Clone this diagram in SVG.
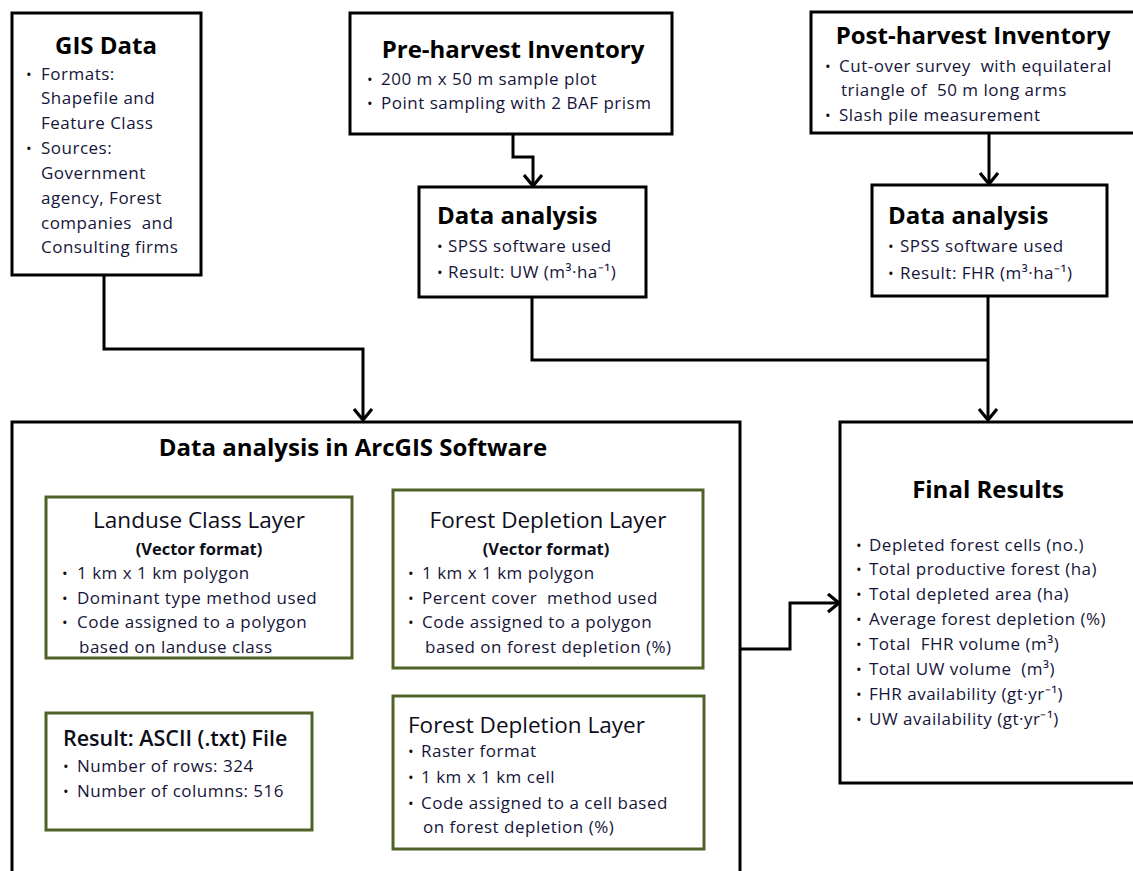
<svg xmlns="http://www.w3.org/2000/svg" width="1133" height="871" viewBox="0 0 1133 871">
<defs>
<marker id="arr" markerUnits="userSpaceOnUse" markerWidth="24" markerHeight="24" refX="13" refY="10" orient="auto" viewBox="0 0 24 24">
<path d="M2,1 L13,10 L2,19" fill="none" stroke="#000" stroke-width="3.2"/>
</marker>
<style>
.bx{fill:#fff;stroke:#000;stroke-width:3}
.gb{fill:#fff;stroke:#4f6228;stroke-width:3}
.ln{fill:none;stroke:#000;stroke-width:3;marker-end:url(#arr)}
.ln2{fill:none;stroke:#000;stroke-width:3}
text{font-family:"Open Sans","Liberation Sans",sans-serif;fill:#15153a;white-space:pre}
.t{font-weight:bold;fill:#000;font-size:24px}
.t2{fill:#0d0d1a;font-size:22.5px;font-weight:500}
.t3{fill:#0d0d1a;font-size:21.5px;font-weight:600}
.sb{font-weight:bold;fill:#0d0d1a;font-size:16.5px}
.b{font-size:17px;letter-spacing:0.5px}
.d{font-size:15px;fill:#111}
</style>
</defs>
<g id="connectors">
<path class="ln" d="M104,275 V349 H363 V420"/>
<path class="ln" d="M513,134 V157 H533 V186"/>
<path class="ln" d="M989,133 V184"/>
<path class="ln2" d="M532,297 V360 H988"/>
<path class="ln" d="M988,296 V420"/>
<path class="ln" d="M352,578 H392"/>
<path class="ln" d="M549,668 V695"/>
<path class="ln" d="M393,772 H313"/>
<path class="ln" d="M740,649 H790 V603 H839"/>
</g>
<g id="gis">
<rect class="bx" x="12" y="13" width="189" height="262"/>
<text class="t" x="106" y="54" text-anchor="middle">GIS Data</text>
<text class="d" x="26" y="80">•</text>
<text class="b" x="41" y="80">Formats:</text>
<text class="b" x="41" y="104">Shapefile and</text>
<text class="b" x="41" y="129">Feature Class</text>
<text class="d" x="26" y="154">•</text>
<text class="b" x="41" y="154">Sources:</text>
<text class="b" x="41" y="179">Government</text>
<text class="b" x="41" y="204">agency, Forest</text>
<text class="b" x="41" y="229">companies  and</text>
<text class="b" x="41" y="253">Consulting firms</text>
</g>
<g id="preharvest">
<rect class="bx" x="350" y="13" width="322" height="121"/>
<text class="t" x="513" y="58" text-anchor="middle">Pre-harvest Inventory</text>
<text class="d" x="367" y="85">•</text>
<text class="b" x="381" y="85">200 m x 50 m sample plot</text>
<text class="d" x="367" y="109">•</text>
<text class="b" x="381" y="109">Point sampling with 2 BAF prism</text>
</g>
<g id="pre-analysis">
<rect class="bx" x="419" y="187" width="227" height="110"/>
<text class="t" x="437" y="224">Data analysis</text>
<text class="d" x="437" y="252">•</text>
<text class="b" x="448" y="252">SPSS software used</text>
<text class="d" x="437" y="278">•</text>
<text class="b" x="448" y="278">Result: UW (m³·ha⁻¹)</text>
</g>
<g id="postharvest">
<rect class="bx" x="811" y="12" width="330" height="121"/>
<text class="t" x="973" y="44" text-anchor="middle">Post-harvest Inventory</text>
<text class="d" x="825" y="72">•</text>
<text class="b" x="839" y="72">Cut-over survey  with equilateral</text>
<text class="b" x="841" y="96">triangle of  50 m long arms</text>
<text class="d" x="825" y="121">•</text>
<text class="b" x="839" y="121">Slash pile measurement</text>
</g>
<g id="post-analysis">
<rect class="bx" x="872" y="185" width="235" height="111"/>
<text class="t" x="888" y="224">Data analysis</text>
<text class="d" x="888" y="252">•</text>
<text class="b" x="900" y="252">SPSS software used</text>
<text class="d" x="888" y="279">•</text>
<text class="b" x="900" y="279">Result: FHR (m³·ha⁻¹)</text>
</g>
<g id="arcgis">
<rect class="bx" x="12" y="422" width="728" height="470"/>
<text class="t" x="353" y="456" text-anchor="middle">Data analysis in ArcGIS Software</text>
</g>
<g id="landuse">
<rect class="gb" x="46" y="497" width="306" height="161"/>
<text class="t2" x="199" y="528" text-anchor="middle">Landuse Class Layer</text>
<text class="sb" x="199" y="555" text-anchor="middle">(Vector format)</text>
<text class="d" x="62" y="579">•</text>
<text class="b" x="77" y="579">1 km x 1 km polygon</text>
<text class="d" x="62" y="604">•</text>
<text class="b" x="77" y="604">Dominant type method used</text>
<text class="d" x="62" y="628">•</text>
<text class="b" x="77" y="628">Code assigned to a polygon</text>
<text class="b" x="79" y="653">based on landuse class</text>
</g>
<g id="depletion-vector">
<rect class="gb" x="393" y="490" width="310" height="178"/>
<text class="t2" x="548" y="528" text-anchor="middle">Forest Depletion Layer</text>
<text class="sb" x="546" y="555" text-anchor="middle">(Vector format)</text>
<text class="d" x="408" y="579">•</text>
<text class="b" x="422" y="579">1 km x 1 km polygon</text>
<text class="d" x="408" y="604">•</text>
<text class="b" x="422" y="604">Percent cover  method used</text>
<text class="d" x="408" y="628">•</text>
<text class="b" x="422" y="628">Code assigned to a polygon</text>
<text class="b" x="425" y="653">based on forest depletion (%)</text>
</g>
<g id="depletion-raster">
<rect class="gb" x="393" y="696" width="311" height="153"/>
<text class="t2" x="408" y="733">Forest Depletion Layer</text>
<text class="d" x="408" y="757">•</text>
<text class="b" x="421" y="757">Raster format</text>
<text class="d" x="408" y="783">•</text>
<text class="b" x="421" y="783">1 km x 1 km cell</text>
<text class="d" x="408" y="809">•</text>
<text class="b" x="421" y="809">Code assigned to a cell based</text>
<text class="b" x="423" y="833">on forest depletion (%)</text>
</g>
<g id="ascii">
<rect class="gb" x="46" y="713" width="266" height="117"/>
<text class="t3" x="63" y="746">Result: ASCII (.txt) File</text>
<text class="d" x="63" y="772">•</text>
<text class="b" x="77" y="772">Number of rows: 324</text>
<text class="d" x="63" y="797">•</text>
<text class="b" x="77" y="797">Number of columns: 516</text>
</g>
<g id="final">
<rect class="bx" x="840" y="422" width="300" height="361"/>
<text class="t" x="988" y="498" text-anchor="middle">Final Results</text>
<text class="d" x="856" y="551">•</text><text class="b" x="869" y="551">Depleted forest cells (no.)</text>
<text class="d" x="856" y="575">•</text><text class="b" x="869" y="575">Total productive forest (ha)</text>
<text class="d" x="856" y="600">•</text><text class="b" x="869" y="600">Total depleted area (ha)</text>
<text class="d" x="856" y="625">•</text><text class="b" x="869" y="625">Average forest depletion (%)</text>
<text class="d" x="856" y="650">•</text><text class="b" x="869" y="650">Total  FHR volume (m³)</text>
<text class="d" x="856" y="675">•</text><text class="b" x="869" y="675">Total UW volume  (m³)</text>
<text class="d" x="856" y="700">•</text><text class="b" x="869" y="700">FHR availability (gt·yr⁻¹)</text>
<text class="d" x="856" y="725">•</text><text class="b" x="869" y="725">UW availability (gt·yr⁻¹)</text>
</g>
</svg>
